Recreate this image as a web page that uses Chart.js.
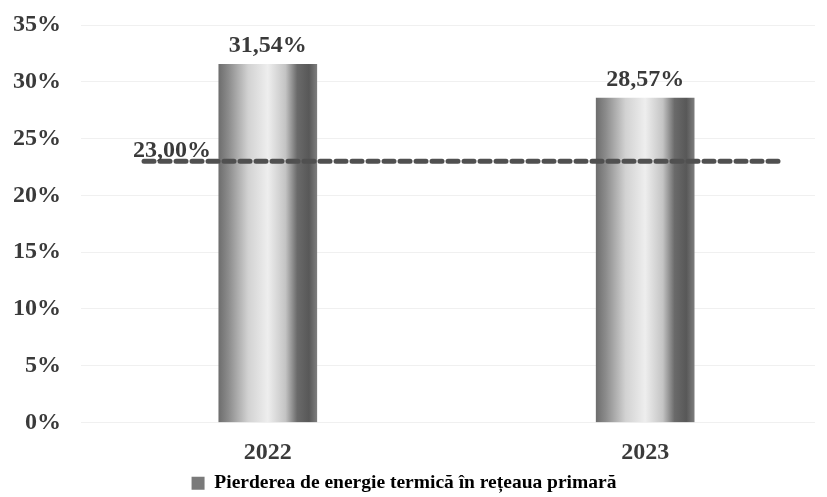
<!DOCTYPE html>
<html>
<head>
<meta charset="utf-8">
<script src="https://cdn.jsdelivr.net/npm/chart.js@4/dist/chart.umd.min.js"></script>
<style>
  html, body { margin: 0; padding: 0; background: #fff; }
  #wrap { width: 827px; height: 497px; position: relative; }
</style>
</head>
<body>
<div id="wrap"><canvas id="lossChart"></canvas></div>
<script>
// === Data ===
const years = ["2022", "2023"];
const losses = [31.54, 28.57];          // % pierdere in reteaua primara
const targetValue = 23.0;               // linia punctata
const targetSpan = [-0.328, 1.352];     // intinderea liniei, in unitati de categorie
const yTicks = [0, 5, 10, 15, 20, 25, 30, 35];
const seriesName = "Pierderea de energie termică în rețeaua primară";

const serif = "'Liberation Serif', 'Times New Roman', serif";
const fmt = (v) => v.toFixed(2).replace(".", ",") + "%";

// gradient gri pe latimea barei
function barFill(context) {
    const chart = context.chart;
    const xs = chart.scales.x;
    if (!xs || xs.left === undefined || context.dataIndex === undefined) return "#999";
    const cx = xs.getPixelForValue(context.dataIndex);
    const half = 49;
    const g = chart.ctx.createLinearGradient(cx - half, 0, cx + half, 0);
    g.addColorStop(0, "#6e6e6e");
    g.addColorStop(0.1, "#8c8c8c");
    g.addColorStop(0.3, "#d2d2d2");
    g.addColorStop(0.5, "#eeeeee");
    g.addColorStop(0.68, "#c4c4c4");
    g.addColorStop(0.8, "#6a6a6a");
    g.addColorStop(0.92, "#585858");
    g.addColorStop(1, "#7c7c7c");
    return g;
}

// === etichete valori ===
const valueLabels = {
    id: "valueLabels",
    afterDatasetsDraw(chart) {
        const ctx = chart.ctx;
        ctx.save();
        ctx.font = "bold 24px " + serif;
        ctx.fillStyle = "#3a3a3a";
        ctx.textAlign = "center";
        ctx.textBaseline = "alphabetic";
        chart.getDatasetMeta(0).data.forEach((el, i) => {
            ctx.fillText(fmt(losses[i]), el.x, el.y - 12);
        });
        const p = chart.getDatasetMeta(1).data[0];
        ctx.fillText(fmt(targetValue), p.x + 28, p.y - 4);
        ctx.restore();
    },
};

const ctx = document.getElementById("lossChart").getContext("2d");
new Chart(ctx, {
    data: {
        datasets: [
            {
                type: "bar",
                label: seriesName,
                data: years.map((y, i) => ({ x: i, y: losses[i] })),
                backgroundColor: barFill,
                barThickness: 98,
                borderWidth: 0,
                order: 2,
            },
            {
                type: "line",
                label: "Țintă",
                data: targetSpan.map((x) => ({ x: x, y: targetValue })),
                borderColor: "#505050",
                borderWidth: 5,
                borderDash: [10, 6],
                borderCapStyle: "round",
                pointRadius: 0,
                fill: false,
                order: 1,
            },
        ],
    },
    options: {
        responsive: true,
        maintainAspectRatio: false,
        animation: false,
        layout: { padding: { top: 0, left: -7, right: 12, bottom: -6 } },
        plugins: {
            legend: {
                position: "bottom",
                labels: {
                    color: "#333",
                    font: { family: serif, size: 19.5, weight: "bold" },
                    boxWidth: 13,
                    boxHeight: 13,
                    padding: 2,
                    generateLabels: () => [{
                        text: seriesName,
                        fillStyle: "#7a7a7a",
                        strokeStyle: "#7a7a7a",
                        lineWidth: 0,
                        datasetIndex: 0,
                    }],
                },
            },
            tooltip: { enabled: false },
        },
        scales: {
            x: {
                type: "linear",
                min: -0.495,
                max: 1.45,
                offset: false,
                grid: { display: false, drawTicks: false },
                border: { display: false },
                afterBuildTicks: (axis) => { axis.ticks = years.map((y, i) => ({ value: i })); },
                afterFit: (axis) => { axis.height = 49; },
                ticks: {
                    color: "#3a3a3a",
                    padding: 18,
                    font: { family: serif, size: 24, weight: "bold", lineHeight: 1 },
                    callback: (v) => years[v],
                },
            },
            y: {
                min: 0,
                max: 35,
                afterBuildTicks: (axis) => { axis.ticks = yTicks.map((v) => ({ value: v })); },
                afterFit: (axis) => { axis.paddingTop = 25; axis.paddingBottom = 0; },
                grid: { color: "rgba(0,0,0,0.06)", drawTicks: false },
                border: { display: false },
                ticks: {
                    color: "#3a3a3a",
                    padding: 20,
                    font: { family: serif, size: 24, weight: "bold" },
                    callback: (v) => v + "%",
                },
            },
        },
    },
    plugins: [valueLabels],
});
</script>
</body>
</html>
